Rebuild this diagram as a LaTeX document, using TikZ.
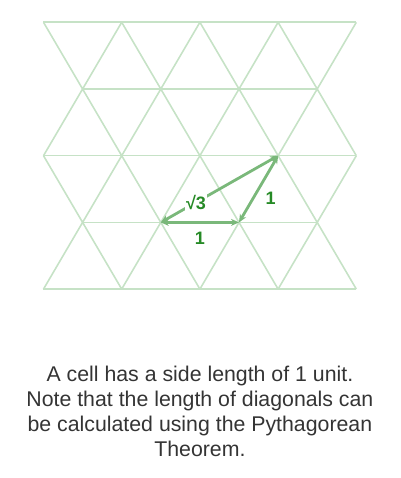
\documentclass[tikz,border=0pt]{standalone}
\usepackage{fontspec}
\setmainfont{Liberation Sans}
\usepackage{tikz}
\usetikzlibrary{arrows.meta}
\definecolor{gridgreen}{RGB}{198,226,198}
\definecolor{arrowgreen}{RGB}{122,184,122}
\definecolor{labelgreen}{RGB}{38,138,38}
\definecolor{captiongray}{RGB}{52,52,52}

\begin{document}
\begin{tikzpicture}[
		x=39.1pt, y=-66.7pt,
		gridline/.style={draw=gridgreen, line width=1.6pt, line join=round},
		vec/.style={draw=arrowgreen, line width=2.8pt,
				{Stealth[length=8pt,width=7pt]}-{Stealth[length=8pt,width=7pt]}},
		lenlabel/.style={text=labelgreen, font=\fontsize{18}{18}\bfseries\selectfont,
				inner sep=1pt},
		caption/.style={text=captiongray, font=\fontsize{21.3}{25}\selectfont,
				align=center}
	]

	\useasboundingbox (-43.5pt,22.3pt) rectangle (356.5pt,-455.7pt);

	% Triangle grid - horizontal rows, then zigzag bands
	\foreach \r in {0,2,4} \draw[gridline] (0,\r) -- (8,\r);
	\foreach \r in {1,3} \draw[gridline] (1,\r) -- (7,\r);
	\foreach \r in {0,...,3}
	\draw[gridline] (0,{\r+mod(\r,2)}) \foreach \i in {1,...,8} { -- (\i,{\r+mod(\i+\r,2)}) };

	% Cell corners
	\coordinate (A) at (3,3);
	\coordinate (B) at (5,3);
	\coordinate (C) at (6,2);

	% Side and diagonal lengths
	\draw[vec] (A) -- (B);
	\draw[vec] (C) -- (B);
	\draw[vec] (A) -- node[lenlabel, pos=0.3, fill=white] (diagAC) {√3} (C);
	\node[lenlabel] (sideAB) at (4,3.24) {1};
	\node[lenlabel] (sideBC) at (5.81,2.64) {1};

	% Caption
	\node[caption] (note) at (4,5.83) {A cell has a side length of 1 unit.\\
		Note that the length of diagonals can\\
		be calculated using the Pythagorean\\
		Theorem.};

\end{tikzpicture}
\end{document}
